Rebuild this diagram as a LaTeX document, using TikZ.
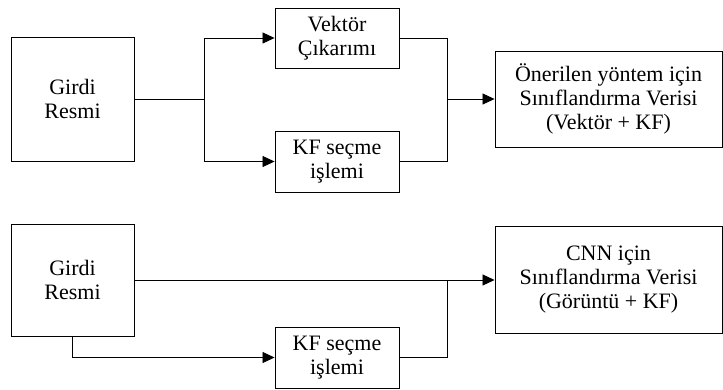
\documentclass[tikz,border=0pt]{standalone}
\usepackage{fontspec}
\setmainfont{Liberation Serif}
\usetikzlibrary{arrows.meta}
\begin{document}
\begin{tikzpicture}[x=1pt,y=-1pt,
  box/.style={draw, line width=0.9pt, inner sep=0pt, align=center, font=\fontsize{22}{24}\selectfont},
  conn/.style={line width=0.8pt},
  arr/.style={conn, -{Triangle[length=12pt,width=11pt]}}]
\useasboundingbox (0,0) rectangle (723,389);
% top row
\node[box, minimum width=123pt, minimum height=124pt] (g1) at (72.5,99) {Girdi\\Resmi};
\node[box, minimum width=124pt, minimum height=60pt] (v) at (337,38) {Vektör\\Çıkarımı};
\node[box, minimum width=124pt, minimum height=61pt] (kf1) at (337,161.5) {KF seçme\\işlemi};
\node[box, minimum width=227pt, minimum height=96pt] (r1) at (608.5,99) {Önerilen yöntem için\\Sınıflandırma Verisi\\(Vektör + KF)};
\coordinate (b1) at (204,99);
\coordinate (m1) at (447,99);
\draw[conn] (g1.east) -- (b1);
\draw[arr] (b1) |- (v.west);
\draw[arr] (b1) |- (kf1.west);
\draw[conn] (v.east) -| (m1);
\draw[conn] (kf1.east) -| (m1);
\draw[arr] (m1) -- (r1.west);
% bottom row
\node[box, minimum width=123pt, minimum height=112pt] (g2) at (72.5,280) {Girdi\\Resmi};
\node[box, minimum width=124pt, minimum height=61pt] (kf2) at (337,357.5) {KF seçme\\işlemi};
\node[box, minimum width=227pt, minimum height=107pt] (r2) at (608.5,280) {CNN için\\Sınıflandırma Verisi\\(Görüntü + KF)};
\coordinate (m2) at (447,280);
\draw[arr] (g2.east) -- (r2.west);
\draw[arr] (g2.south) |- (kf2.west);
\draw[conn] (kf2.east) -| (m2);
\end{tikzpicture}
\end{document}
